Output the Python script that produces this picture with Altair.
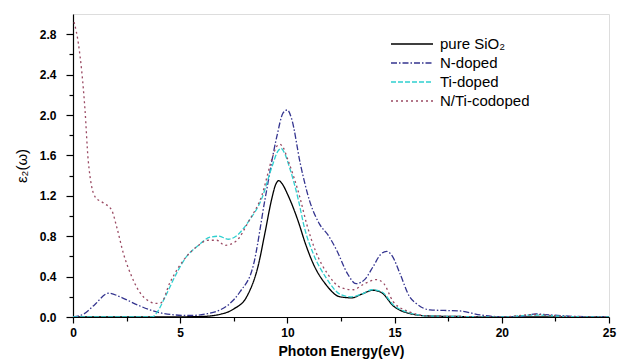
import altair as alt
import pandas as pd

series_names = ["pure SiO₂", "N-doped", "Ti-doped", "N/Ti-codoped"]
series_colors = ["#000000", "#34348f", "#2fcfcf", "#9a4a63"]
series_dashes = [[1, 0], [6, 2, 1.5, 2], [5, 2], [2, 3]]

pure_E = [0, 4, 6.0, 6.93, 7.5, 8.1, 8.64, 8.96, 9.27, 9.45, 9.6, 9.75, 10.04, 10.5, 10.85, 11.2, 11.8, 12.45, 13.0, 13.5, 14.0, 14.4, 14.94, 15.7, 16.6, 18, 20, 25]
pure_v = [0, 0, 0.005, 0.03, 0.08, 0.2, 0.51, 0.84, 1.17, 1.31, 1.35, 1.32, 1.2, 0.95, 0.72, 0.53, 0.32, 0.2, 0.19, 0.23, 0.265, 0.24, 0.11, 0.035, 0.01, 0.005, 0, 0]

n_E = [0, 0.5, 1.0, 1.65, 2.3, 3.0, 3.9, 4.8, 5.5, 6.2, 6.86, 7.3, 7.79, 8.41, 8.96, 9.5, 9.8, 10.0, 10.2, 10.6, 11.05, 11.5, 11.9, 12.3, 12.8, 13.2, 13.6, 14.0, 14.35, 14.63, 14.9, 15.25, 15.7, 16.03, 16.65, 17.3, 18.05, 19.0, 20.3, 21.0, 21.6, 22.3, 23.5, 25]
n_v = [0, 0.03, 0.12, 0.235, 0.19, 0.12, 0.05, 0.02, 0.015, 0.03, 0.07, 0.13, 0.25, 0.51, 1.17, 1.78, 2.02, 2.05, 1.96, 1.52, 1.14, 0.92, 0.81, 0.66, 0.43, 0.33, 0.37, 0.5, 0.62, 0.65, 0.6, 0.43, 0.2, 0.13, 0.07, 0.065, 0.06, 0.02, 0.0, 0.01, 0.03, 0.02, 0.005, 0]

ti_E = [0, 3.7, 3.9, 4.3, 4.8, 5.3, 5.8, 6.39, 6.8, 7.25, 7.6, 8.2, 8.8, 9.3, 9.55, 9.7, 9.85, 10.1, 10.5, 10.8, 11.2, 11.8, 12.5, 13.0, 13.5, 13.95, 14.4, 14.94, 15.7, 16.6, 18, 20, 21.5, 23, 25]
ti_v = [0, 0, 0.04, 0.2, 0.42, 0.6, 0.7, 0.79, 0.8, 0.77, 0.8, 0.95, 1.17, 1.5, 1.64, 1.67, 1.63, 1.48, 1.17, 0.88, 0.63, 0.39, 0.22, 0.2, 0.23, 0.27, 0.25, 0.12, 0.04, 0.01, 0.005, 0, 0.02, 0.005, 0]

co_E = [0.05, 0.25, 0.56, 0.71, 1.03, 1.41, 1.8, 2.04, 2.35, 2.74, 3.28, 3.9, 4.1, 4.52, 5.3, 5.8, 6.3, 6.7, 7.09, 7.6, 8.2, 8.8, 9.3, 9.5, 9.65, 9.8, 10.0, 10.6, 10.9, 11.3, 11.9, 12.5, 13.07, 13.6, 14.16, 14.5, 14.94, 15.7, 16.6, 18, 20, 21.5, 23, 25]
co_v = [2.92, 2.71, 2.05, 1.55, 1.19, 1.13, 1.06, 0.89, 0.63, 0.40, 0.20, 0.135, 0.14, 0.34, 0.6, 0.7, 0.76, 0.76, 0.71, 0.75, 0.95, 1.2, 1.58, 1.69, 1.71, 1.68, 1.57, 1.17, 0.92, 0.66, 0.42, 0.29, 0.27, 0.33, 0.37, 0.33, 0.15, 0.05, 0.01, 0.005, 0, 0.025, 0.005, 0]

x_tick_values = [0, 2.5, 5, 7.5, 10, 12.5, 15, 17.5, 20, 22.5, 25]
y_tick_values = [0, 0.2, 0.4, 0.6, 0.8, 1.0, 1.2, 1.4, 1.6, 1.8, 2.0, 2.2, 2.4, 2.6, 2.8]

rows = []
for name, E, V in zip(series_names, [pure_E, n_E, ti_E, co_E], [pure_v, n_v, ti_v, co_v]):
    for e, v in zip(E, V):
        rows.append({"series": name, "E": e, "eps": v})
df = pd.DataFrame(rows)

font = "Liberation Sans"

legend = alt.Legend(title=None, orient="none", legendX=317, legendY=22,
                    symbolType="stroke", symbolSize=1764, symbolStrokeWidth=1.3,
                    labelFont=font, labelFontSize=15, labelColor="black",
                    labelOffset=6, rowPadding=3, padding=0, clipHeight=16)

chart = alt.Chart(df).mark_line(strokeWidth=1.3, interpolate="monotone", clip=True).encode(
    x=alt.X("E:Q", scale=alt.Scale(domain=[0, 25], nice=False, zero=False),
            axis=alt.Axis(values=x_tick_values, grid=False, title="Photon Energy(eV)",
                          labelExpr="datum.value % 5 === 0 ? format(datum.value, 'd') : ''",
                          tickSize={"condition": {"test": "datum.value % 5 === 0", "value": 6}, "value": 4},
                          labelFlush=False, labelOverlap=False, labelPadding=4,
                          labelFont=font, labelFontSize=12, labelFontWeight="bold", labelColor="black",
                          titleFont=font, titleFontSize=14, titleFontWeight="bold", titleColor="black",
                          titlePadding=6, domainColor="black", tickColor="black", domainWidth=1.2, tickWidth=1.2)),
    y=alt.Y("eps:Q", scale=alt.Scale(domain=[0, 3.0], nice=False),
            axis=alt.Axis(values=y_tick_values, grid=False, title="ε₂(ω)",
                          labelExpr="round(datum.value * 10) % 4 === 0 ? format(datum.value, '.1f') : ''",
                          tickSize={"condition": {"test": "round(datum.value * 10) % 4 === 0", "value": 7}, "value": 4},
                          labelOverlap=False, labelPadding=10, labelFlush=False,
                          labelFont=font, labelFontSize=12, labelFontWeight="bold", labelColor="black",
                          titleFont=font, titleFontSize=15, titleFontWeight="normal", titleColor="black",
                          titlePadding=10, domainColor="black", tickColor="black", domainWidth=1.2, tickWidth=1.2)),
    color=alt.Color("series:N", sort=series_names,
                    scale=alt.Scale(domain=series_names, range=series_colors),
                    legend=legend),
    strokeDash=alt.StrokeDash("series:N", sort=series_names,
                              scale=alt.Scale(domain=series_names, range=series_dashes),
                              legend=legend),
).properties(
    width=536, height=303,
    padding={"left": 73, "top": 14, "right": 15, "bottom": 46},
    autosize="none",
).configure_view(stroke="black", strokeWidth=1.2).configure(background="white")

chart.save("out.html", embed_options={"renderer": "svg", "actions": False})
